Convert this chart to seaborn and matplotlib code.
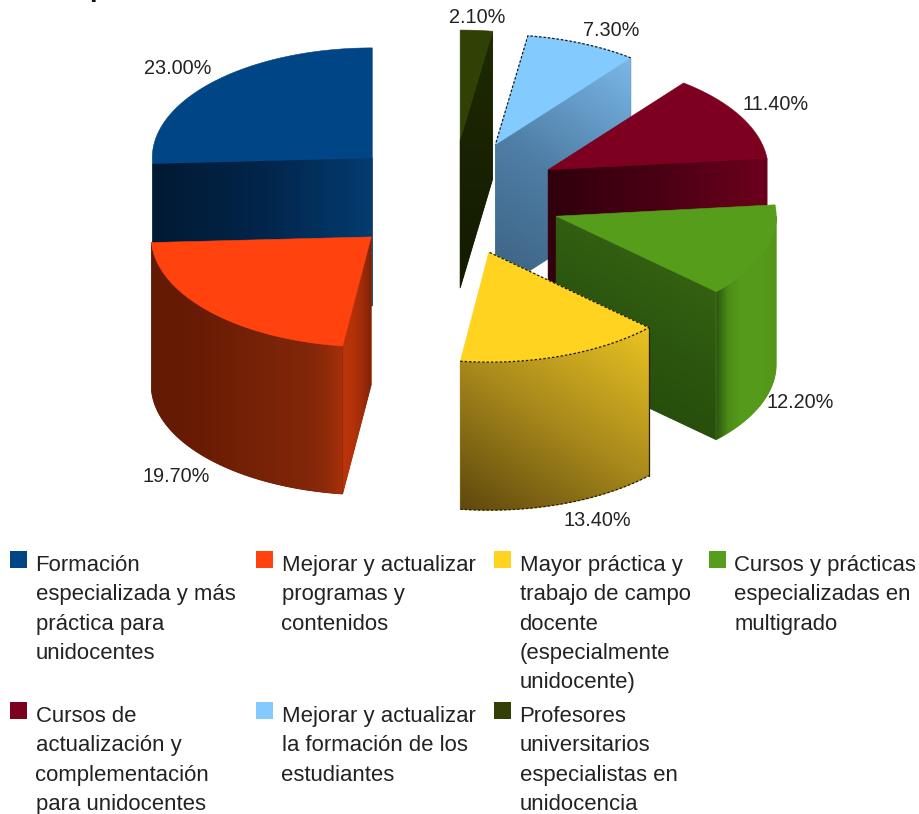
import numpy as np
import matplotlib
matplotlib.use("Agg")
import matplotlib.pyplot as plt
from matplotlib.patches import Polygon, Rectangle
import seaborn as sns

# Datos
categories = [
    "Formación\nespecializada y más\npráctica para\nunidocentes",
    "Mejorar y actualizar\nprogramas y\ncontenidos",
    "Mayor práctica y\ntrabajo de campo\ndocente\n(especialmente\nunidocente)",
    "Cursos y prácticas\nespecializadas en\nmultigrado",
    "Cursos de\nactualización y\ncomplementación\npara unidocentes",
    "Mejorar y actualizar\nla formación de los\nestudiantes",
    "Profesores\nuniversitarios\nespecialistas en\nunidocencia",
]
values = [23.0, 19.7, 13.4, 12.2, 11.4, 7.3, 2.1]
value_labels = ["23.00%", "19.70%", "13.40%", "12.20%", "11.40%", "7.30%", "2.10%"]
colors = ["#004586", "#ff420e", "#ffd320", "#579d1c", "#7e0021", "#83caff", "#314004"]

# Geometry of the projected pie, in pixels
CX, CY = 452, 197.7
RX, RY = 220, 110
EXPLODE_X, EXPLODE_Y = 110, 57.8
DEPTH = 148

# Side face shading: index -> (stops, gradient direction in screen coords)
outer_wall = {
    1: (["#631a04", "#651a04", "#671b05", "#6a1c05", "#6e1e05", "#722006",
         "#762207", "#7a2407", "#7e2508", "#822609", "#8c2a09", "#a83009"], (1, 0)),
    2: (["#5e480d", "#a98a1c", "#eac322"], (0.55, -0.85)),
    3: (["#2a5510", "#4d8c18", "#569a1c", "#569a1c", "#569a1c", "#539619"], (1, 0)),
}
cut_start = {
    3: (["#224509", "#2c560f", "#3a6a12"], (0.5, -0.85)),
    4: (["#30000c", "#4a0014", "#6c001c"], (1, 0)),
    5: (["#3b6080", "#4f7ea6", "#7ab8e8"], (0.55, -0.85)),
    6: (["#121a01", "#1f2a03"], (0, -1)),
}
cut_end = {
    0: (["#011a33", "#02254a", "#033c70"], (1, 0)),
    1: (["#bb340a", "#b5320a", "#a02c09", "#7a2207"], (1, 0)),
}
# yellow and light blue wedges have a rough dark outline in the source
dashed_edges = [2, 5]
# back to front
draw_order = [6, 5, 4, 3, 2, 0, 1]

label_xy = [(178, 69), (176, 477), (597, 521), (800, 402.5), (776, 104), (611, 30), (477, 17.5)]
legend_xy = [(10, 551), (256, 551), (494, 551), (709, 551), (10, 702), (256, 702), (494, 702)]

sns.set_theme(style="white")
plt.rcParams["font.family"] = ["Liberation Sans", "DejaVu Sans"]

fig = plt.figure(figsize=(9.19, 8.14), dpi=100, facecolor="white")
ax = fig.add_axes([0, 0, 1, 1])


def rim(tip, a0, a1, n=80):
    t = np.radians(np.linspace(a0, a1, n))
    return np.column_stack([tip[0] + RX * np.cos(t), tip[1] - RY * np.sin(t)])


def shaded(verts, stops, direction, z):
    # flat base under the gradient so no light seam shows between faces
    base = stops[len(stops) // 2]
    ax.add_patch(Polygon(verts, closed=True, fc=base, ec=base, lw=0.6, zorder=z))
    patch = Polygon(verts, closed=True, fc="none", ec="none", zorder=z)
    ax.add_patch(patch)
    x0, y0 = verts.min(axis=0)
    x1, y1 = verts.max(axis=0)
    xx, yy = np.meshgrid(np.linspace(x0, x1, 200), np.linspace(y0, y1, 200))
    grid = direction[0] * xx + direction[1] * yy
    cmap = sns.blend_palette(stops, as_cmap=True)
    im = ax.imshow(grid, extent=(x0, x1, y1, y0), origin="upper", cmap=cmap,
                   aspect="auto", zorder=z, interpolation="bilinear")
    im.set_clip_path(patch)


def extrude(edge):
    return np.vstack([edge, (edge + [0, DEPTH])[::-1]])


shares = np.array(values) / np.sum(values) * 360
starts = 90 + np.concatenate([[0], np.cumsum(shares)[:-1]])
ends = starts + shares

z = 1
for i in draw_order:
    a0, a1 = starts[i], ends[i]
    mid = np.radians((a0 + a1) / 2)
    tip = np.array([CX + EXPLODE_X * np.cos(mid), CY - EXPLODE_Y * np.sin(mid)])
    arc = rim(tip, a0, a1)

    if i in cut_start:
        shaded(extrude(np.vstack([tip, arc[0]])), *cut_start[i], z)
        z += 1
    if i in cut_end:
        shaded(extrude(np.vstack([tip, arc[-1]])), *cut_end[i], z)
        z += 1
    if i in outer_wall:
        # only the front half of the rim shows a wall
        shaded(extrude(rim(tip, max(a0, 180), min(a1, 360))), *outer_wall[i], z)
        z += 1

    top = np.vstack([tip, arc])
    ax.add_patch(Polygon(top, closed=True, fc=colors[i], ec=colors[i], lw=0.4, zorder=z))
    z += 1

    if i in dashed_edges:
        ax.plot(*np.vstack([arc[0], arc, tip]).T, color="#1a1a1a", lw=0.9,
                dashes=(2, 1.5), zorder=z)
        if i == 2:
            ax.plot(*(arc + [0, DEPTH]).T, color="#2a2000", lw=0.9, dashes=(2, 1.5), zorder=z)
            ax.plot(*np.array([arc[-1], arc[-1] + [0, DEPTH]]).T, color="#2a2000", lw=0.9, zorder=z)
        z += 1

for txt, (x, y) in zip(value_labels, label_xy):
    ax.text(x, y, txt, ha="center", va="center", fontsize=14.3, color="#222222", zorder=z)

for cat, col, (x, y) in zip(categories, colors, legend_xy):
    ax.add_patch(Rectangle((x, y), 17, 17, fc=col, ec="none", zorder=z))
    for k, line in enumerate(cat.split("\n")):
        ax.text(x + 25.5, y + 20 + k * 29.3, line, ha="left", va="baseline",
                fontsize=15.9, color="#222222", zorder=z)

# bottom of the cropped title
ax.text(89, -4.5, "p", ha="left", va="baseline", fontsize=20, fontweight="bold", color="#111111")

ax.set_xlim(0, 919)
ax.set_ylim(814, 0)
ax.axis("off")

fig.savefig("out.png", dpi=100, facecolor="white")
